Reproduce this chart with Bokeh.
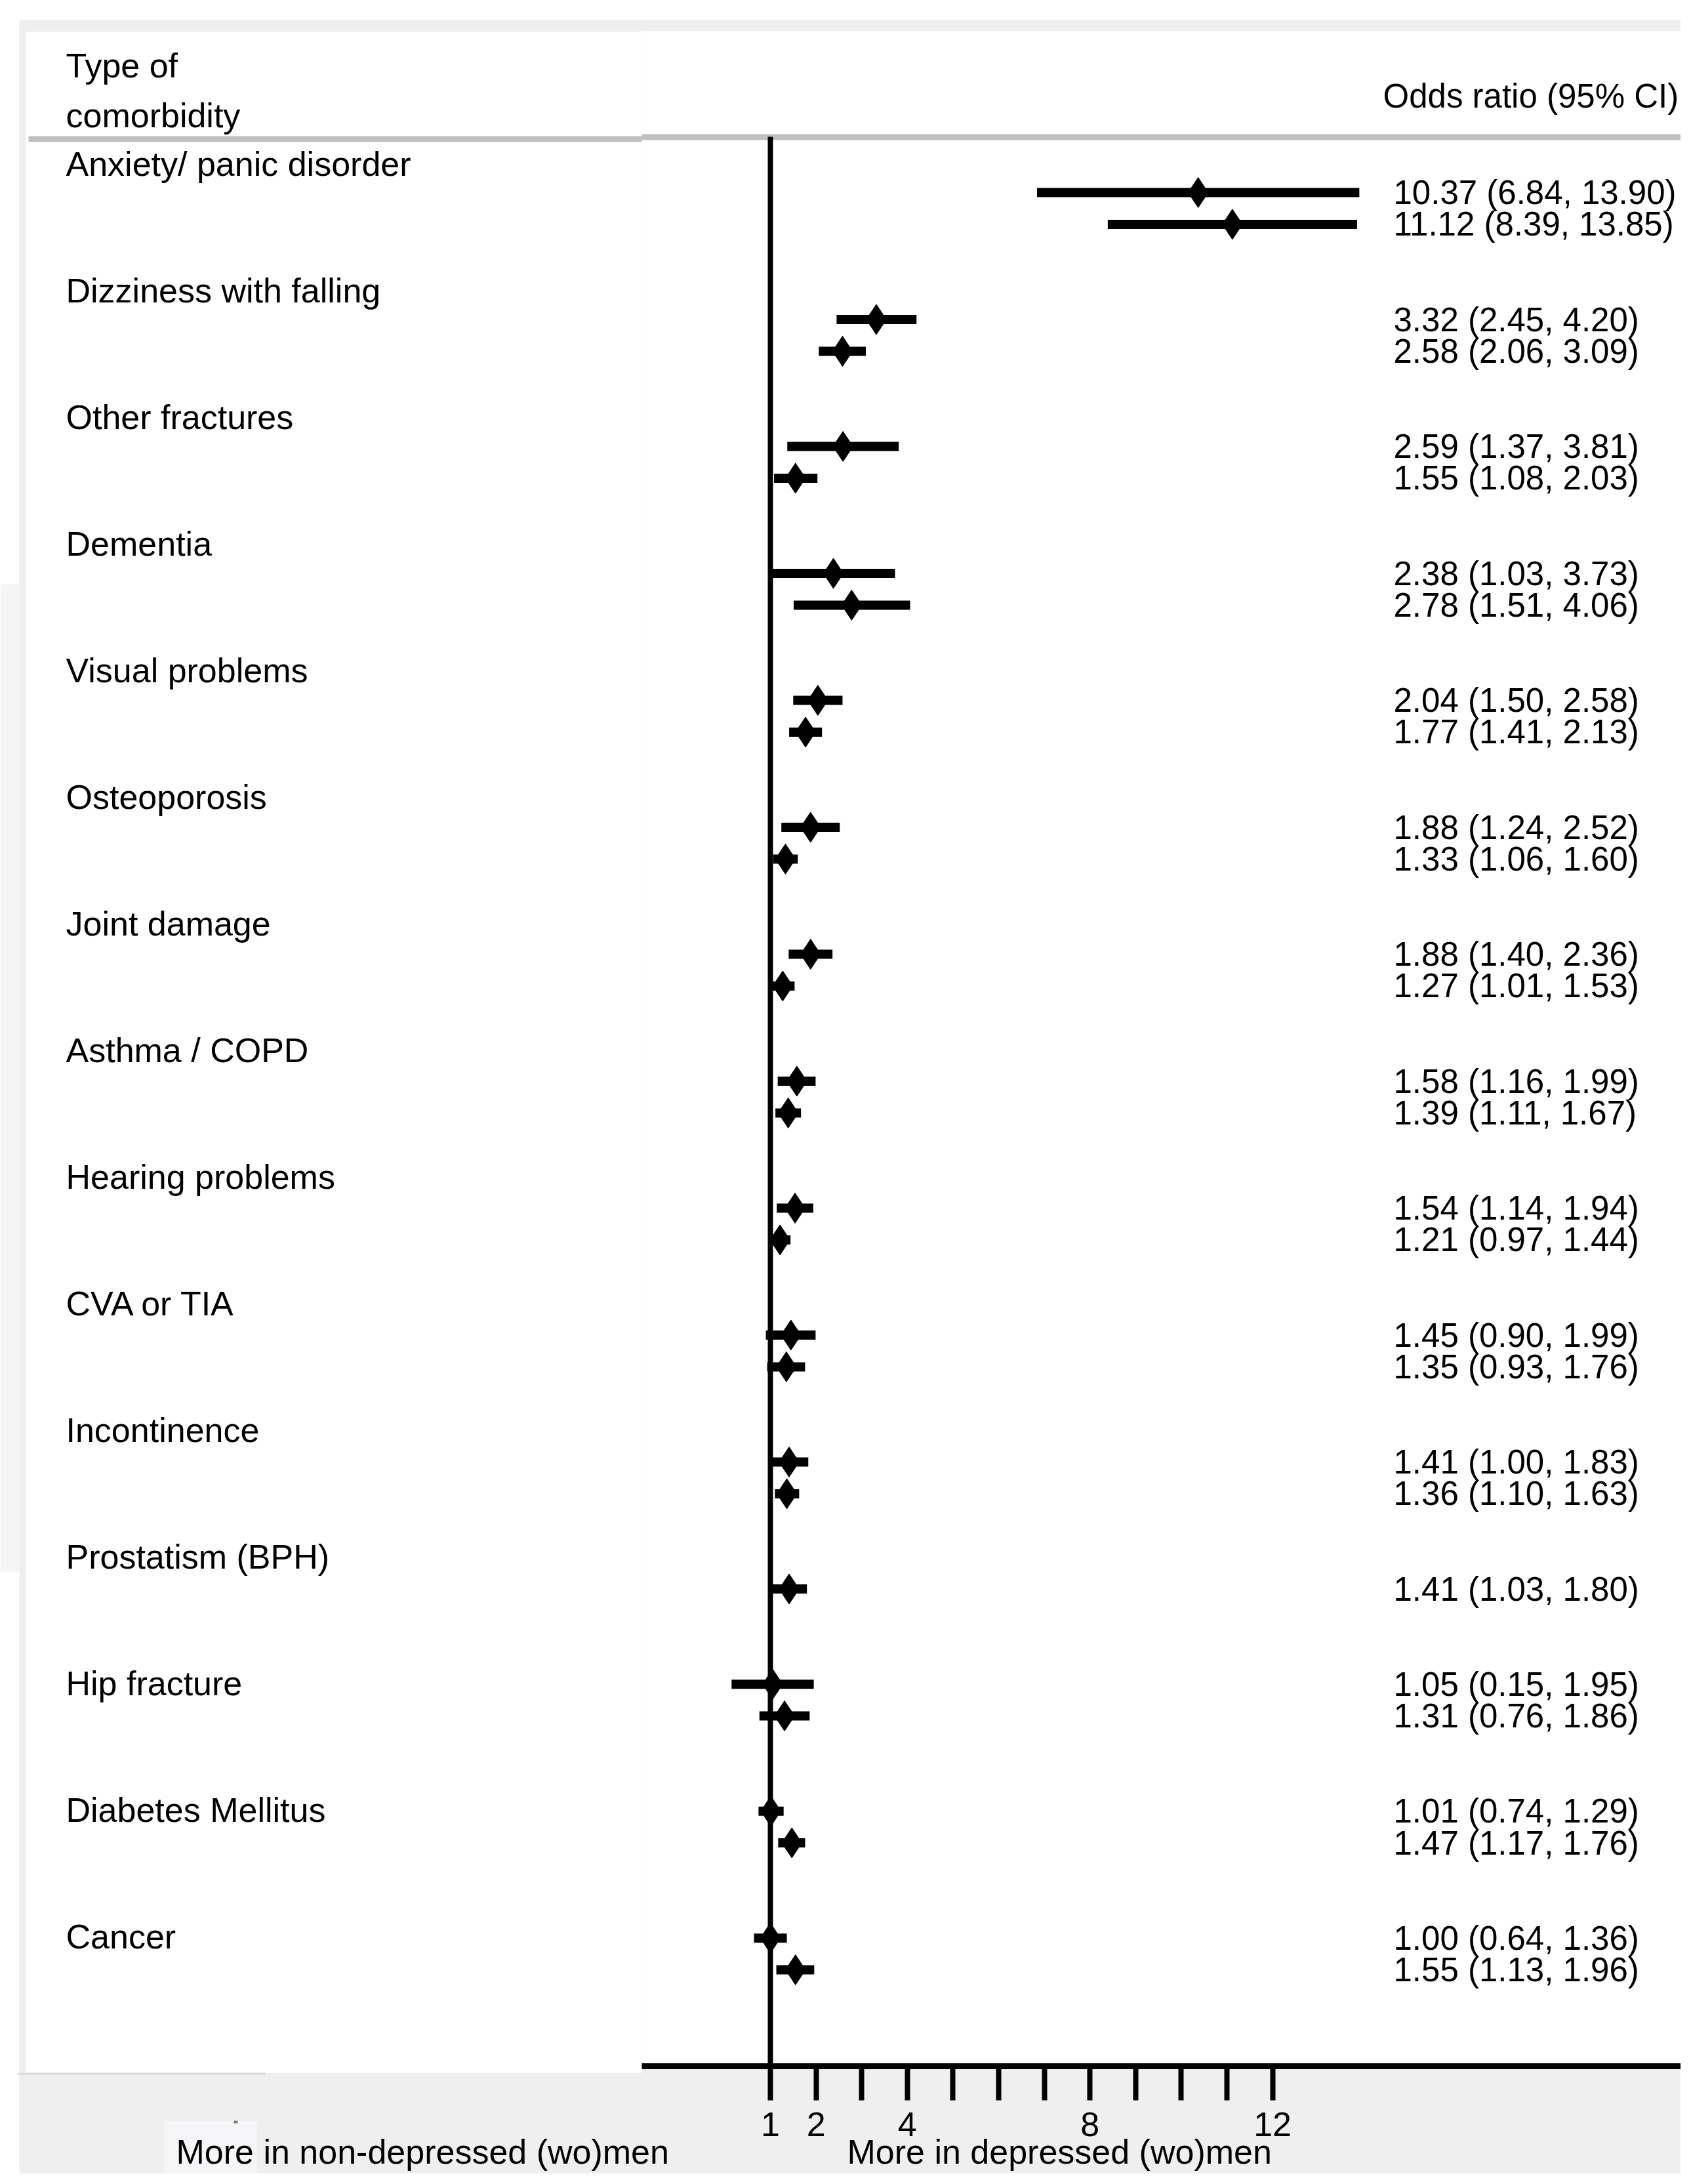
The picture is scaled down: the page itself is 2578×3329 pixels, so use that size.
from bokeh.plotting import figure
from bokeh.models import Range1d, LinearAxis, FixedTicker, ColumnDataSource
from bokeh.core.properties import value
from bokeh.embed import file_html
from bokeh.resources import INLINE

# ---------------- data ----------------
CATEGORIES = ["Anxiety/ panic disorder", "Dizziness with falling", "Other fractures",
              "Dementia", "Visual problems", "Osteoporosis", "Joint damage",
              "Asthma / COPD", "Hearing problems", "CVA or TIA", "Incontinence",
              "Prostatism (BPH)", "Hip fracture", "Diabetes Mellitus", "Cancer"]
OR_1 = [10.37, 3.32, 2.59, 2.38, 2.04, 1.88, 1.88, 1.58, 1.54, 1.45, 1.41, 1.41, 1.05, 1.01, 1.00]
LO_1 = [6.84, 2.45, 1.37, 1.03, 1.50, 1.24, 1.40, 1.16, 1.14, 0.90, 1.00, 1.03, 0.15, 0.74, 0.64]
HI_1 = [13.90, 4.20, 3.81, 3.73, 2.58, 2.52, 2.36, 1.99, 1.94, 1.99, 1.83, 1.80, 1.95, 1.29, 1.36]
OR_2 = [11.12, 2.58, 1.55, 2.78, 1.77, 1.33, 1.27, 1.39, 1.21, 1.35, 1.36, None, 1.31, 1.47, 1.55]
LO_2 = [8.39, 2.06, 1.08, 1.51, 1.41, 1.06, 1.01, 1.11, 0.97, 0.93, 1.10, None, 0.76, 1.17, 1.13]
HI_2 = [13.85, 3.09, 2.03, 4.06, 2.13, 1.60, 1.53, 1.67, 1.44, 1.76, 1.63, None, 1.86, 1.76, 1.96]

TICKS = [1, 2, 3, 4, 5, 6, 7, 8, 9, 10, 11, 12]
TICK_LABELS = ["1", "2", "", "4", "", "", "", "8", "", "", "", "12"]
NULL_OR = 1

HEADER_LEFT = ["Type of", "comorbidity"]
HEADER_RIGHT = "Odds ratio (95% CI)"
X_LABEL_LEFT = "More in non-depressed (wo)men"
X_LABEL_RIGHT = "More in depressed (wo)men"

# ---------------- layout (picture pixels) ----------------
W, H = 2562, 3313
X_ONE_PAGE = 1174.0      # picture x of OR = 1
PX_PER_UNIT = 69.6       # picture px per OR unit
ROW0_PAGE = 293.0        # picture y of first CI row
ROW_PX = 48.375          # picture px per row slot
TEXT_DY = -19            # correction for text baseline placement

FONT = value("Liberation Sans")
FS = value("52px")
FS_VAL = value("51px")


def px2x(px):
    return NULL_OR + (px - X_ONE_PAGE) / PX_PER_UNIT


def py2y(py):
    return (py - ROW0_PAGE) / ROW_PX


def ty(py):
    return py2y(py + TEXT_DY)


p = figure(width=W, height=H,
           x_range=Range1d(px2x(0), px2x(W)),
           y_range=Range1d(py2y(H), py2y(0)),
           output_backend="svg", toolbar_location=None,
           x_axis_location=None, y_axis_location=None,
           min_border=0, outline_line_color=None,
           background_fill_color="white", border_fill_color="white")
p.grid.grid_line_color = None


def box(x0, x1, y0, y1, color):
    p.quad(left=[px2x(x0)], right=[px2x(x1)], top=[py2y(y0)], bottom=[py2y(y1)],
           fill_color=color, line_color=None)


# background panels
box(0, 29, 890, 2395, "#f5f5f5")
box(29, 2600, 30, 3340, "#efefef")
box(39, 978, 48, 3159, "white")
box(978, 2600, 47, 3150, "white")
box(27, 404, 3159, 3162, "#d9d9d9")
box(249, 391, 3232, 3340, "#f6f6f8")
box(356, 362, 3232, 3236, "#808080")
# header separator
box(43, 978, 207, 216, "#c0c0c0")
box(978, 2600, 204, 213, "#c0c0c0")

# header texts
p.text(x=[px2x(100), px2x(100)], y=[ty(118), ty(194)], text=HEADER_LEFT,
       text_font=FONT, text_font_size=FS, text_color="black",
       text_align="left", text_baseline="alphabetic")
p.text(x=[px2x(2108)], y=[ty(165)], text=[HEADER_RIGHT],
       text_font=FONT, text_font_size=FS_VAL, text_color="black",
       text_align="left", text_baseline="alphabetic")

# null line at OR = 1
p.segment(x0=[NULL_OR], x1=[NULL_OR], y0=[py2y(208)], y1=[py2y(3148)],
          line_color="black", line_width=8)

# rows: each category uses its rows plus two blank slots
rows_or, rows_lo, rows_hi, rows_y = [], [], [], []
slot = 0
for i in range(len(CATEGORIES)):
    series = [(OR_1[i], LO_1[i], HI_1[i]), (OR_2[i], LO_2[i], HI_2[i])]
    n = 0
    for o, lo, hi in series:
        if o is None:
            continue
        rows_or.append(o)
        rows_lo.append(lo)
        rows_hi.append(hi)
        rows_y.append(slot + n)
        n += 1
    slot += n + 2

src = ColumnDataSource(dict(
    o=rows_or, lo=rows_lo, hi=rows_hi, y=rows_y,
    ty=[y + (19 + TEXT_DY) / ROW_PX for y in rows_y],
    tx=[px2x(2124)] * len(rows_y),
    txt=["%.2f (%.2f, %.2f)" % (o, lo, hi) for o, lo, hi in zip(rows_or, rows_lo, rows_hi)],
))
p.segment(x0="lo", x1="hi", y0="y", y1="y", source=src, line_color="black", line_width=14)
p.scatter(x="o", y="y", source=src, marker="diamond", size=46,
          fill_color="black", line_color="black")
p.text(x="tx", y="ty", text="txt", source=src, text_font=FONT, text_font_size=FS_VAL,
       text_color="black", text_align="left", text_baseline="alphabetic")

# category labels
lab = ColumnDataSource(dict(
    x=[px2x(100)] * len(CATEGORIES),
    y=[ty(268 + i * 193.05) for i in range(len(CATEGORIES))],
    t=CATEGORIES,
))
p.text(x="x", y="y", text="t", source=lab, text_font=FONT, text_font_size=FS,
       text_color="black", text_align="left", text_baseline="alphabetic")

# bottom axis
ax = LinearAxis(fixed_location=py2y(3148.5),
                bounds=(px2x(978), px2x(2600)),
                ticker=FixedTicker(ticks=TICKS, minor_ticks=[]),
                major_label_overrides={t: s for t, s in zip(TICKS, TICK_LABELS)},
                axis_line_width=9, axis_line_color="black",
                major_tick_line_width=8, major_tick_line_color="black",
                major_tick_out=52, major_tick_in=0,
                minor_tick_out=0, minor_tick_in=0,
                major_label_text_font="Liberation Sans",
                major_label_text_font_size="52px",
                major_label_text_color="black",
                major_label_standoff=19)
p.add_layout(ax, "below")

# axis direction labels
p.text(x=[px2x(268), px2x(1291)], y=[ty(3298), ty(3298)],
       text=[X_LABEL_LEFT, X_LABEL_RIGHT], text_font=FONT, text_font_size=FS,
       text_color="black", text_align="left", text_baseline="alphabetic")

open("out.html", "w").write(file_html(p, INLINE))
